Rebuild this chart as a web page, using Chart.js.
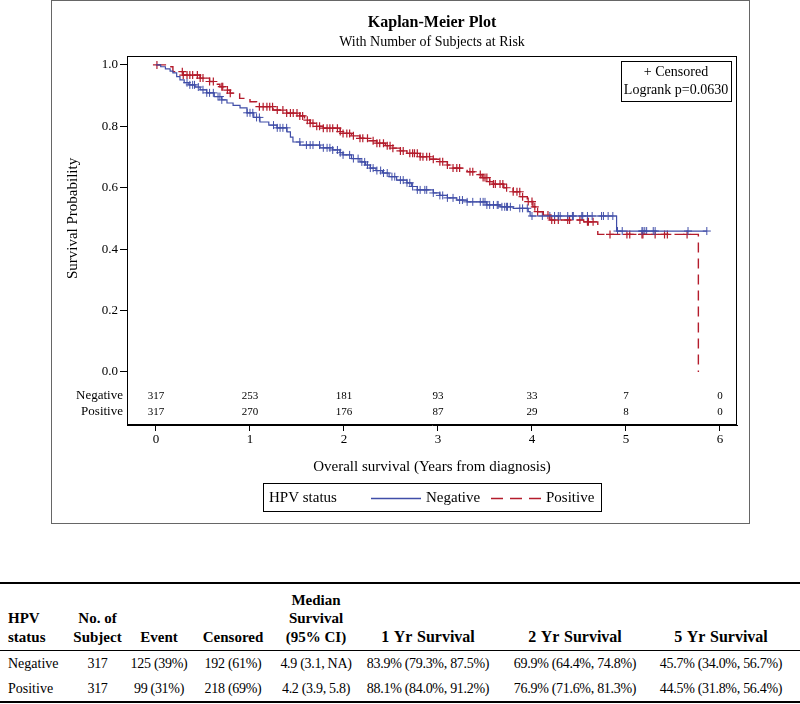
<!DOCTYPE html>
<html>
<head>
<meta charset="utf-8">
<script src="https://cdn.jsdelivr.net/npm/chart.js@4.4.1/dist/chart.umd.min.js"></script>
<style>
  body { margin:0; background:#fff; font-family:"Liberation Serif", "Times New Roman", serif; }
  #frame { position:absolute; left:51px; top:0; width:697px; height:522px; border:1px solid #666; }
  #stats { position:absolute; left:0; top:582px; width:800px; border-collapse:collapse; font-size:14px; color:#000; table-layout:fixed; }
  #stats th { font-weight:bold; font-size:15px; vertical-align:bottom; line-height:18.5px; height:62px; padding:0 0 4px 0;
              border-top:2px solid #000; border-bottom:1px solid #000; text-align:center; white-space:nowrap; }
  #stats th.wide { font-size:16px; word-spacing:1px; }
  #stats td { height:25px; text-align:center; padding:0; white-space:nowrap; letter-spacing:-0.3px; }
  #stats tr:last-child td { border-bottom:2px solid #000; }
  #stats .first { text-align:left; padding-left:8px; letter-spacing:0; }
  #stats .last { padding-right:11px; }
</style>
</head>
<body>
<div id="frame"><canvas id="myChart" width="697" height="522"></canvas></div>

<table id="stats">
  <colgroup>
    <col style="width:70px"><col style="width:55px"><col style="width:68px"><col style="width:80px">
    <col style="width:86px"><col style="width:138px"><col style="width:156px"><col style="width:147px">
  </colgroup>
  <thead id="statsHead"></thead>
  <tbody id="statsBody"></tbody>
</table>

<script>
// survival curves: [time in years, survival after the step]
const negSteps = [
  [0,1.0],[0.05,0.994],[0.10,0.987],[0.15,0.980],[0.18,0.974],[0.22,0.962],[0.255,0.951],[0.30,0.942],
  [0.35,0.935],[0.415,0.928],[0.47,0.919],[0.54,0.909],[0.62,0.897],[0.70,0.886],[0.755,0.876],[0.82,0.868],
  [0.894,0.860],[0.968,0.844],[1.04,0.829],[1.106,0.814],[1.20,0.804],[1.287,0.795],[1.394,0.782],[1.43,0.765],
  [1.457,0.749],[1.532,0.739],[1.745,0.730],[1.88,0.723],[1.957,0.714],[1.99,0.707],[2.08,0.695],[2.17,0.684],
  [2.23,0.674],[2.28,0.664],[2.34,0.656],[2.41,0.648],[2.48,0.636],[2.56,0.625],[2.67,0.616],[2.72,0.604],
  [2.78,0.593],[2.95,0.583],[3.02,0.575],[3.10,0.567],[3.20,0.560],[3.31,0.554],[3.52,0.544],[3.66,0.538],
  [3.80,0.533],[3.96,0.522],[3.98,0.508],[4.90,0.459],[5.86,0.459]
];
const posSteps = [
  [0,1.0],[0.10,0.994],[0.18,0.978],[0.29,0.967],[0.47,0.957],[0.57,0.946],[0.63,0.937],[0.68,0.929],
  [0.74,0.918],[0.79,0.908],[0.89,0.891],[1.00,0.880],[1.07,0.864],[1.245,0.853],[1.39,0.843],[1.53,0.834],
  [1.58,0.820],[1.64,0.810],[1.71,0.800],[1.78,0.794],[1.96,0.783],[1.99,0.777],[2.08,0.769],[2.17,0.761],
  [2.26,0.753],[2.35,0.745],[2.44,0.737],[2.52,0.729],[2.60,0.720],[2.67,0.712],[2.81,0.701],[2.92,0.693],
  [3.02,0.685],[3.10,0.674],[3.16,0.664],[3.31,0.652],[3.40,0.643],[3.47,0.633],[3.55,0.620],[3.59,0.612],
  [3.70,0.600],[3.80,0.587],[3.88,0.571],[3.95,0.555],[4.01,0.538],[4.06,0.522],[4.12,0.511],[4.19,0.495],
  [4.55,0.489],[4.70,0.448],[5.77,0.448],[5.77,0]
];

// censoring times (years)
const negCensor = [0.33,0.36,0.39,0.41,0.45,0.50,0.54,0.57,0.61,0.66,0.68,0.70,0.97,1.00,1.03,1.07,1.10,1.25,1.29,
  1.32,1.35,1.39,1.53,1.60,1.64,1.67,1.74,1.78,1.82,1.85,1.88,1.93,1.96,1.99,2.06,2.10,2.15,2.19,2.22,2.25,2.28,2.31,
  2.35,2.39,2.42,2.46,2.51,2.54,2.60,2.63,2.67,2.70,2.73,2.78,2.81,2.86,2.88,2.95,3.02,3.05,3.10,3.16,3.23,3.26,3.31,
  3.37,3.45,3.48,3.50,3.52,3.55,3.59,3.63,3.64,3.68,3.71,3.73,3.74,3.77,3.87,3.90,3.95,4.00,4.11,4.19,4.24,4.28,4.30,
  4.38,4.43,4.44,4.53,4.54,4.59,4.64,4.74,4.76,4.81,4.86,4.91,4.96,5.17,5.18,5.20,5.22,5.29,5.31,5.66,5.86];
const posCensor = [0.01,0.28,0.29,0.33,0.36,0.39,0.44,0.47,0.50,0.57,0.61,0.70,0.71,0.76,0.79,1.10,1.14,1.18,1.21,
  1.24,1.29,1.35,1.39,1.43,1.46,1.50,1.53,1.56,1.61,1.64,1.67,1.71,1.74,1.78,1.82,1.85,1.88,1.93,1.96,1.99,2.03,2.06,
  2.10,2.17,2.20,2.25,2.31,2.35,2.38,2.42,2.46,2.49,2.52,2.60,2.63,2.70,2.73,2.75,2.78,2.81,2.84,2.88,2.91,2.95,3.02,
  3.05,3.10,3.16,3.20,3.23,3.34,3.37,3.45,3.48,3.50,3.52,3.55,3.59,3.61,3.66,3.69,3.73,3.80,3.84,3.87,3.90,3.96,4.00,
  4.03,4.06,4.17,4.21,4.24,4.28,4.38,4.40,4.51,4.59,4.60,4.65,4.83,5.01,5.04,5.17,5.18,5.31,5.41,5.44,5.65];

// number at risk
const riskTimes = [0,1,2,3,4,5,6];
const riskNeg = [317,253,181,93,33,7,0];
const riskPos = [317,270,176,87,29,8,0];

const xTicks = [0,1,2,3,4,5,6];
const yTicks = [0,0.2,0.4,0.6,0.8,1.0];

// summary table
const tableHead = ['HPV<br>status','No. of<br>Subject','Event','Censored','Median<br>Survival<br>(95% CI)',
  '1 Yr Survival','2 Yr Survival','5 Yr Survival'];
const tableRows = [
  ['Negative','317','125 (39%)','192 (61%)','4.9 (3.1, NA)','83.9% (79.3%, 87.5%)','69.9% (64.4%, 74.8%)','45.7% (34.0%, 56.7%)'],
  ['Positive','317','99 (31%)','218 (69%)','4.2 (3.9, 5.8)','88.1% (84.0%, 91.2%)','76.9% (71.6%, 81.3%)','44.5% (31.8%, 56.4%)']
];

const BLUE = 'rgb(64, 78, 168)';
const RED = 'rgb(180, 28, 44)';
const FONT = '"Liberation Serif", "Times New Roman", serif';

function survAt(steps, t) {
  var s = steps[0][1];
  for (var i = 0; i < steps.length; i++) {
    if (steps[i][0] <= t) s = steps[i][1]; else break;
  }
  return s;
}
function toXY(steps) { return steps.map(function (p) { return {x: p[0], y: p[1]}; }); }
function censorXY(times, steps) { return times.map(function (t) { return {x: t, y: survAt(steps, t)}; }); }

// table
var th = '<tr>';
tableHead.forEach(function (h, i) {
  var cls = i === 0 ? 'first' : (i === 7 ? 'last wide' : (i >= 5 ? 'wide' : ''));
  th += '<th class="' + cls + '">' + h + '</th>';
});
document.getElementById('statsHead').innerHTML = th + '</tr>';
var tb = '';
tableRows.forEach(function (r) {
  tb += '<tr>';
  r.forEach(function (c, i) {
    tb += '<td class="' + (i === 0 ? 'first' : (i === 7 ? 'last' : '')) + '">' + c + '</td>';
  });
  tb += '</tr>';
});
document.getElementById('statsBody').innerHTML = tb;

// extra drawing: titles, frame, at-risk rows, inset and legend
const kmDecor = {
  id: 'kmDecor',
  afterDraw: function (chart) {
    var ctx = chart.ctx, a = chart.chartArea;
    var xs = chart.scales.x, ys = chart.scales.y;
    var cx = (a.left + a.right) / 2;
    ctx.save();
    ctx.fillStyle = '#000';
    ctx.strokeStyle = '#000';
    ctx.lineWidth = 1;
    ctx.strokeRect(Math.round(a.left) + 0.5, Math.round(a.top) + 0.5,
                   Math.round(a.right - a.left) - 1, Math.round(a.bottom - a.top) - 1);

    ctx.textAlign = 'center';
    ctx.textBaseline = 'middle';
    ctx.font = 'bold 16px ' + FONT;
    ctx.fillText('Kaplan-Meier Plot', cx, 22);
    ctx.font = '14px ' + FONT;
    ctx.fillText('With Number of Subjects at Risk', cx, 41);

    // axis titles
    ctx.font = '15px ' + FONT;
    ctx.fillText('Overall survival (Years from diagnosis)', cx, a.bottom + 42);
    ctx.save();
    ctx.translate(21, (ys.getPixelForValue(0) + ys.getPixelForValue(1)) / 2);
    ctx.rotate(-Math.PI / 2);
    ctx.fillText('Survival Probability', 0, 0);
    ctx.restore();

    // number at risk
    var rowY = [a.bottom - 29, a.bottom - 13];
    ctx.font = '13px ' + FONT;
    ctx.textAlign = 'right';
    ctx.fillText('Negative', a.left - 4, rowY[0]);
    ctx.fillText('Positive', a.left - 4, rowY[1]);
    ctx.font = '11px ' + FONT;
    ctx.textAlign = 'center';
    riskTimes.forEach(function (t, i) {
      var px = xs.getPixelForValue(t);
      ctx.fillText(String(riskNeg[i]), px, rowY[0]);
      ctx.fillText(String(riskPos[i]), px, rowY[1]);
    });

    // inset box
    var bx = a.right - 116, by = a.top + 5;
    ctx.strokeRect(bx + 0.5, by + 0.5, 110, 40);
    ctx.font = '14px ' + FONT;
    ctx.fillText('+ Censored', bx + 55, by + 11);
    ctx.fillText('Logrank p=0.0630', bx + 55, by + 29);

    // legend
    var lw = 338, lx = Math.round(cx - lw / 2), ly = a.bottom + 58;
    ctx.strokeRect(lx + 0.5, ly + 0.5, lw, 28);
    var my = ly + 15;
    ctx.font = '15px ' + FONT;
    ctx.textAlign = 'left';
    ctx.fillText('HPV status', lx + 6, my);
    ctx.fillText('Negative', lx + 163, my);
    ctx.fillText('Positive', lx + 283, my);
    ctx.lineWidth = 1.3;
    ctx.strokeStyle = BLUE;
    ctx.beginPath(); ctx.moveTo(lx + 108, my + 0.5); ctx.lineTo(lx + 158, my + 0.5); ctx.stroke();
    ctx.strokeStyle = RED;
    ctx.setLineDash([12, 7]);
    ctx.beginPath(); ctx.moveTo(lx + 228, my + 0.5); ctx.lineTo(lx + 278, my + 0.5); ctx.stroke();
    ctx.restore();
  }
};

var ctxEl = document.getElementById('myChart');
var myChart = new Chart(ctxEl, {
  type: 'scatter',
  data: {
    datasets: [
      { label: 'Negative', data: toXY(negSteps), showLine: true, stepped: 'before',
        borderColor: BLUE, borderWidth: 1.2, pointRadius: 0, fill: false },
      { label: 'Positive', data: toXY(posSteps), showLine: true, stepped: 'before',
        borderColor: RED, borderWidth: 1.4, borderDash: [10, 6], pointRadius: 0, fill: false },
      { label: 'Negative censored', data: censorXY(negCensor, negSteps), showLine: false,
        pointStyle: 'cross', pointRadius: 4, pointBorderWidth: 1, borderColor: BLUE, backgroundColor: BLUE },
      { label: 'Positive censored', data: censorXY(posCensor, posSteps), showLine: false,
        pointStyle: 'cross', pointRadius: 4, pointBorderWidth: 1.2, borderColor: RED, backgroundColor: RED }
    ]
  },
  options: {
    responsive: false,
    animation: false,
    devicePixelRatio: 1,
    layout: { padding: { top: 55, right: 12, left: 0, bottom: 0 } },
    plugins: { legend: { display: false }, title: { display: false }, tooltip: { enabled: false } },
    scales: {
      x: {
        type: 'linear', min: -0.3085, max: 6.181,
        afterBuildTicks: function (s) { s.ticks = xTicks.map(function (v) { return {value: v}; }); },
        afterFit: function (s) { s.height = 98; },
        ticks: { color: '#000', font: { family: FONT, size: 13 }, padding: 1, maxRotation: 0,
                 callback: function (v) { return String(v); } },
        grid: { drawOnChartArea: false, tickLength: 6, color: '#000' },
        border: { display: true, color: '#000' }
      },
      y: {
        type: 'linear', min: -0.1726, max: 1.029,
        afterBuildTicks: function (s) { s.ticks = yTicks.map(function (v) { return {value: v}; }); },
        afterFit: function (s) { s.width = 75; },
        ticks: { color: '#000', font: { family: FONT, size: 13 }, padding: 2,
                 callback: function (v) { return Number(v).toFixed(1); } },
        grid: { drawOnChartArea: false, tickLength: 7, color: '#000' },
        border: { display: true, color: '#000' }
      }
    }
  },
  plugins: [kmDecor]
});
</script>
</body>
</html>
